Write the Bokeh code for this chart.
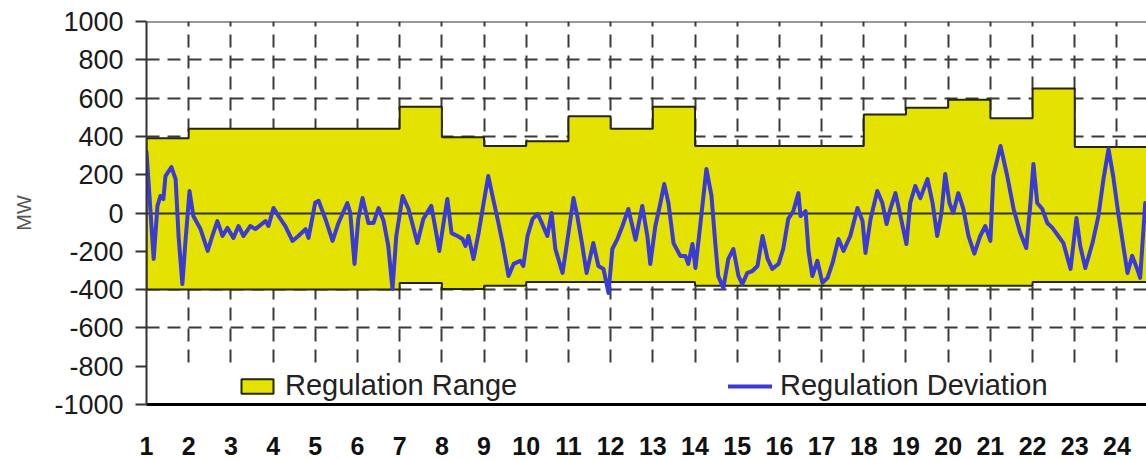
from bokeh.plotting import figure
from bokeh.models import Range1d, FixedTicker, Span, BoxAnnotation, Legend, LegendItem
from bokeh.embed import file_html
from bokeh.resources import INLINE

# ---- data ----
hours = list(range(1, 25))
hour_labels = [str(h) for h in hours]
range_upper = [390, 440, 440, 440, 440, 440, 555, 395, 350, 375, 505, 440,
               555, 350, 350, 350, 350, 515, 550, 592, 495, 650, 345, 345]
range_lower = [-400, -400, -400, -400, -400, -400, -365, -397, -380, -360, -360, -360,
               -360, -380, -380, -380, -380, -380, -380, -380, -380, -360, -360, -360]

dev_hour = [
    1.00, 1.17, 1.26, 1.33, 1.40, 1.45, 1.59, 1.69, 1.76, 1.85,
    1.92, 2.02, 2.11, 2.28, 2.45, 2.56, 2.68, 2.80, 2.92, 3.06,
    3.18, 3.30, 3.46, 3.58, 3.82, 3.89, 4.01, 4.13, 4.29, 4.46,
    4.60, 4.77, 4.84, 5.00, 5.08, 5.24, 5.41, 5.55, 5.76, 5.83,
    5.93, 6.02, 6.12, 6.26, 6.38, 6.50, 6.62, 6.73, 6.83, 6.92,
    7.07, 7.21, 7.42, 7.56, 7.75, 7.85, 7.94, 8.04, 8.13, 8.23,
    8.37, 8.49, 8.56, 8.63, 8.75, 8.87, 8.99, 9.10, 9.20, 9.32,
    9.44, 9.58, 9.70, 9.86, 9.93, 10.03, 10.15, 10.27, 10.38, 10.50,
    10.60, 10.69, 10.86, 10.98, 11.12, 11.21, 11.33, 11.43, 11.59, 11.71,
    11.83, 11.95, 12.04, 12.16, 12.28, 12.42, 12.59, 12.75, 12.87, 12.94,
    13.06, 13.18, 13.27, 13.37, 13.49, 13.65, 13.77, 13.84, 13.94, 14.01,
    14.13, 14.27, 14.39, 14.48, 14.55, 14.67, 14.79, 14.91, 15.03, 15.12,
    15.24, 15.36, 15.48, 15.60, 15.72, 15.83, 15.98, 16.09, 16.21, 16.33,
    16.45, 16.50, 16.62, 16.69, 16.78, 16.90, 17.02, 17.14, 17.26, 17.40,
    17.52, 17.68, 17.85, 17.97, 18.04, 18.16, 18.32, 18.44, 18.54, 18.63,
    18.75, 18.87, 19.01, 19.10, 19.22, 19.34, 19.51, 19.63, 19.74, 19.84,
    19.93, 20.03, 20.12, 20.24, 20.36, 20.48, 20.62, 20.76, 20.88, 21.00,
    21.07, 21.24, 21.40, 21.55, 21.71, 21.85, 21.95, 22.02, 22.11, 22.23,
    22.35, 22.47, 22.61, 22.73, 22.90, 23.04, 23.13, 23.25, 23.42, 23.56,
    23.68, 23.80, 23.91, 24.03, 24.15, 24.25, 24.36, 24.48, 24.55, 24.67,
]
dev_mw = [
    320, -240, 37, 89, 73, 193, 240, 177, -120, -371,
    -157, 115, -16, -84, -198, -120, -42, -120, -78, -131,
    -68, -120, -68, -84, -42, -68, 26, -16, -68, -146,
    -120, -84, -130, 55, 63, -31, -146, -52, 52, 0,
    -266, -31, 78, -52, -52, 26, -42, -172, -397, -120,
    89, 21, -157, -31, 37, -84, -198, -52, 73, -105,
    -120, -136, -172, -120, -240, -105, 52, 193, 89, -31,
    -157, -329, -266, -250, -277, -120, -31, -5, -57, -120,
    0, -188, -313, -136, 78, -16, -172, -313, -157, -277,
    -292, -418, -188, -136, -68, 21, -140, 37, -120, -266,
    -68, 52, 151, 52, -157, -224, -224, -266, -162, -287,
    -52, 230, 89, -157, -329, -392, -240, -188, -329, -371,
    -313, -303, -277, -120, -240, -292, -266, -188, -31, 10,
    104, -16, 10, -200, -329, -250, -365, -339, -261, -136,
    -198, -120, 26, -42, -209, -31, 115, 52, -57, 21,
    104, -16, -162, 52, 141, 78, 177, 52, -120, 0,
    204, 52, 0, 104, 21, -120, -212, -120, -68, -146,
    193, 350, 193, 21, -105, -183, 52, 256, 52, 21,
    -52, -78, -120, -157, -292, -26, -172, -287, -157, -16,
    177, 334, 193, 0, -172, -313, -224, -292, -339, 52,
]
y_ticks = list(range(-1000, 1001, 200))
y_tick_labels = [str(t) for t in y_ticks]

# step outline of the regulation band (one flat segment per hour)
step_x, step_up, step_lo = [], [], []
for h, u, l in zip(hours, range_upper, range_lower):
    step_x += [h, h + 1]
    step_up += [u, u]
    step_lo += [l, l]
band_x = step_x + step_x[::-1]
band_y = step_up + step_lo[::-1]

FONT = "Liberation Sans"
GRID = "#3a3a3a"

p = figure(width=1146, height=460, output_backend="svg", toolbar_location=None,
           x_range=Range1d(1, 24.7), y_range=Range1d(-1000, 1000),
           min_border_left=146, min_border_right=0, min_border_top=21, min_border_bottom=56)
p.outline_line_color = None
p.background_fill_color = "white"
p.border_fill_color = "white"

# grid
p.xgrid.ticker = FixedTicker(ticks=hours[1:])
p.ygrid.ticker = FixedTicker(ticks=[t for t in y_ticks if t not in (-1000, 0, 1000)])
for g in (p.xgrid, p.ygrid):
    g.grid_line_color = GRID
    g.grid_line_width = 2
    g.grid_line_dash = "13 8"

# x axis
p.xaxis.ticker = FixedTicker(ticks=hours)
p.xaxis.major_label_overrides = {h: s for h, s in zip(hours, hour_labels)}
p.xaxis.major_tick_line_color = None
p.xaxis.minor_tick_line_color = None
p.xaxis.axis_line_width = 3
p.xaxis.axis_line_color = "black"
p.xaxis.major_label_standoff = 26
p.xaxis.major_label_text_font = FONT
p.xaxis.major_label_text_font_size = "25px"
p.xaxis.major_label_text_font_style = "bold"
p.xaxis.major_label_text_color = "#111111"

# y axis
p.yaxis.ticker = FixedTicker(ticks=y_ticks)
p.yaxis.major_label_overrides = {t: s for t, s in zip(y_ticks, y_tick_labels)}
p.yaxis.major_tick_out = 11
p.yaxis.major_tick_in = 0
p.yaxis.major_tick_line_width = 2
p.yaxis.major_tick_line_color = "#333333"
p.yaxis.minor_tick_line_color = None
p.yaxis.axis_line_width = 2
p.yaxis.axis_line_color = "#333333"
p.yaxis.major_label_standoff = 12
p.yaxis.major_label_text_font = FONT
p.yaxis.major_label_text_font_size = "27px"
p.yaxis.major_label_text_color = "#1a1a1a"
p.yaxis.axis_label = "MW"
p.yaxis.axis_label_text_font = FONT
p.yaxis.axis_label_text_font_size = "20px"
p.yaxis.axis_label_text_font_style = "normal"
p.yaxis.axis_label_text_color = "#555555"
p.yaxis.axis_label_standoff = 16

# white strip behind the legend
p.add_layout(BoxAnnotation(top=-790, bottom=-1000, fill_color="white", fill_alpha=1,
                           line_alpha=0, level="underlay"))

band = p.patch(band_x, band_y, fill_color="#e4e200", line_color="#262600", line_width=2)
p.hspan(y=[0], line_color="#333333", line_width=2)
dev = p.line(dev_hour, dev_mw, line_color="#3a3ad6", line_width=4, line_join="round",
             line_cap="round")

p.add_layout(Span(location=1000, dimension="width", line_color="#333333", line_width=2))

common = dict(orientation="horizontal", padding=0, margin=0, border_line_alpha=0,
              background_fill_alpha=0, glyph_height=18, label_standoff=8,
              label_text_font=FONT, label_text_font_size="29px", label_text_color="#222222")
leg1 = Legend(items=[LegendItem(label="Regulation Range", renderers=[band])],
              location=(91, 2), glyph_width=40, **common)
leg2 = Legend(items=[LegendItem(label="Regulation Deviation", renderers=[dev])],
              location=(582, 2), glyph_width=44, **common)
p.add_layout(leg1)
p.add_layout(leg2)

open("out.html", "w").write(file_html(p, INLINE))
